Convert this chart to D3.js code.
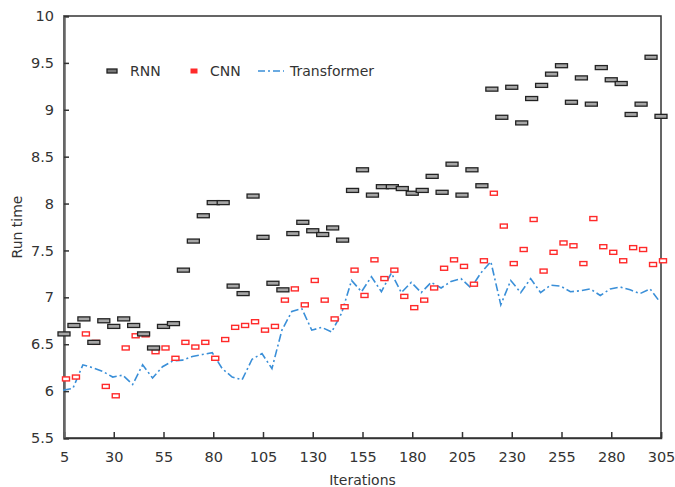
<!DOCTYPE html>
<html>
<head>
<meta charset="utf-8">
<script src="https://cdn.jsdelivr.net/npm/d3@7"></script>
<style>
  body { margin: 0; background: #fff; }
  text { font-family: "DejaVu Sans", Verdana, sans-serif; fill: #333; }
</style>
</head>
<body>
<svg width="675" height="487"></svg>
<script>
// iterations 5..305, one sample every 5
var iterations = [5,10,15,20,25,30,35,40,45,50,55,60,65,70,75,80,85,90,95,100,
  105,110,115,120,125,130,135,140,145,150,155,160,165,170,175,180,185,190,195,200,
  205,210,215,220,225,230,235,240,245,250,255,260,265,270,275,280,285,290,295,300,305];

var rnn = [6.61,6.70,6.77,6.52,6.75,6.69,6.77,6.70,6.61,6.46,6.69,6.72,7.29,7.60,7.87,8.01,8.01,7.12,7.04,8.08,
  7.64,7.15,7.08,7.68,7.80,7.71,7.67,7.74,7.61,8.14,8.36,8.09,8.18,8.18,8.16,8.11,8.14,8.29,8.12,8.42,
  8.09,8.36,8.19,9.22,8.92,9.24,8.86,9.12,9.26,9.38,9.47,9.08,9.34,9.06,9.45,9.32,9.28,8.95,9.06,9.56,8.93];

var cnn = [6.13,6.15,6.61,6.52,6.05,5.95,6.46,6.59,6.60,6.42,6.46,6.35,6.52,6.47,6.52,6.35,6.55,6.68,6.70,6.74,
  6.65,6.69,6.97,7.09,6.92,7.18,6.97,6.77,6.90,7.29,7.02,7.40,7.20,7.29,7.01,6.89,6.97,7.10,7.31,7.40,
  7.33,7.14,7.39,8.11,7.76,7.36,7.51,7.83,7.28,7.48,7.58,7.55,7.36,7.84,7.54,7.48,7.39,7.53,7.51,7.35,7.39];

var transformer = [6.01,6.03,6.28,6.25,6.21,6.15,6.17,6.07,6.28,6.14,6.26,6.32,6.33,6.37,6.39,6.41,6.24,6.15,6.12,6.34,
  6.40,6.24,6.65,6.85,6.88,6.65,6.68,6.63,6.83,7.18,7.06,7.22,7.06,7.26,7.05,7.16,7.05,7.16,7.10,7.17,
  7.20,7.10,7.26,7.38,6.92,7.18,7.05,7.20,7.05,7.13,7.12,7.06,7.07,7.09,7.02,7.09,7.11,7.08,7.04,7.09,6.95];

var xTicks = [5,30,55,80,105,130,155,180,205,230,255,280,305];
var yTicks = [5.5,6,6.5,7,7.5,8,8.5,9,9.5,10];
var seriesNames = ["RNN","CNN","Transformer"];

var svg = d3.select("svg");
var margin = {left: 64, right: 14, top: 16, bottom: 49};
var W = 675 - margin.left - margin.right,
    H = 487 - margin.top - margin.bottom;

var g = svg.append("g").attr("transform", "translate(" + margin.left + "," + margin.top + ")");

var x = d3.scaleLinear().domain([5, 305]).range([0, W]);
var y = d3.scaleLinear().domain([5.5, 10]).range([H, 0]);

// frame
g.append("rect").attr("width", W).attr("height", H)
  .attr("fill", "none").attr("stroke", "#333").attr("stroke-width", 1.5);

var xAxis = g.append("g").attr("transform", "translate(0," + H + ")")
  .call(d3.axisBottom(x).tickValues(xTicks).tickSize(-6).tickPadding(14).tickFormat(d3.format("d")));
var yAxis = g.append("g")
  .call(d3.axisLeft(y).tickValues(yTicks).tickSize(-5).tickPadding(10).tickFormat(function(d) { return d; }));
[xAxis, yAxis].forEach(function(a) {
  a.select(".domain").attr("stroke", "#333").attr("stroke-width", 1.5);
  a.selectAll(".tick line").attr("stroke", "#333").attr("stroke-width", 1.5);
  a.selectAll("text").attr("font-size", 14.5).attr("fill", "#333")
    .attr("font-family", "DejaVu Sans, Verdana, sans-serif");
});
yAxis.select(".domain").attr("stroke", "#666").attr("stroke-width", 2.5);

svg.append("text").attr("x", margin.left + W / 2).attr("y", 485)
  .attr("text-anchor", "middle").attr("font-size", 14).text("Iterations");
svg.append("text").attr("transform", "translate(22," + (margin.top + H / 2) + ") rotate(-90)")
  .attr("text-anchor", "middle").attr("font-size", 14).text("Run time");

// transformer line
var line = d3.line().x(function(d, i) { return x(iterations[i]) - 1; }).y(function(d) { return y(d); });
g.append("path").datum(transformer).attr("d", line)
  .attr("fill", "none").attr("stroke", "#3a8fd8").attr("stroke-width", 1.6)
  .attr("stroke-dasharray", "8,3,2,3");

// CNN markers
g.selectAll(".cnn").data(cnn).enter().append("rect").attr("class", "cnn")
  .attr("x", function(d, i) { return x(iterations[i]) + 2 - 3.5; })
  .attr("y", function(d) { return y(d) - 2; })
  .attr("width", 7).attr("height", 4)
  .attr("fill", "#fff").attr("stroke", "#ff2a2a").attr("stroke-width", 1.4);

// RNN markers
g.selectAll(".rnn").data(rnn).enter().append("rect").attr("class", "rnn")
  .attr("x", function(d, i) { return x(iterations[i]) - 6; })
  .attr("y", function(d) { return y(d) - 2; })
  .attr("width", 12).attr("height", 4)
  .attr("fill", "#a6a6a6").attr("stroke", "#222").attr("stroke-width", 1.3);

// legend
var lg = svg.append("g").attr("transform", "translate(0,71)");
lg.append("rect").attr("x", 107).attr("y", -2).attr("width", 10).attr("height", 4)
  .attr("fill", "#777").attr("stroke", "#222").attr("stroke-width", 1.3);
lg.append("text").attr("x", 130).attr("y", 5).attr("font-size", 14).text(seriesNames[0]);
lg.append("rect").attr("x", 191).attr("y", -2).attr("width", 6).attr("height", 4)
  .attr("fill", "#ff2a2a").attr("stroke", "#ff2a2a").attr("stroke-width", 1);
lg.append("text").attr("x", 210).attr("y", 5).attr("font-size", 14).text(seriesNames[1]);
lg.append("line").attr("x1", 258).attr("x2", 284).attr("y1", 0).attr("y2", 0)
  .attr("stroke", "#3a8fd8").attr("stroke-width", 1.6).attr("stroke-dasharray", "7,3,2,3");
lg.append("text").attr("x", 290).attr("y", 5).attr("font-size", 14).text(seriesNames[2]);
</script>
</body>
</html>
